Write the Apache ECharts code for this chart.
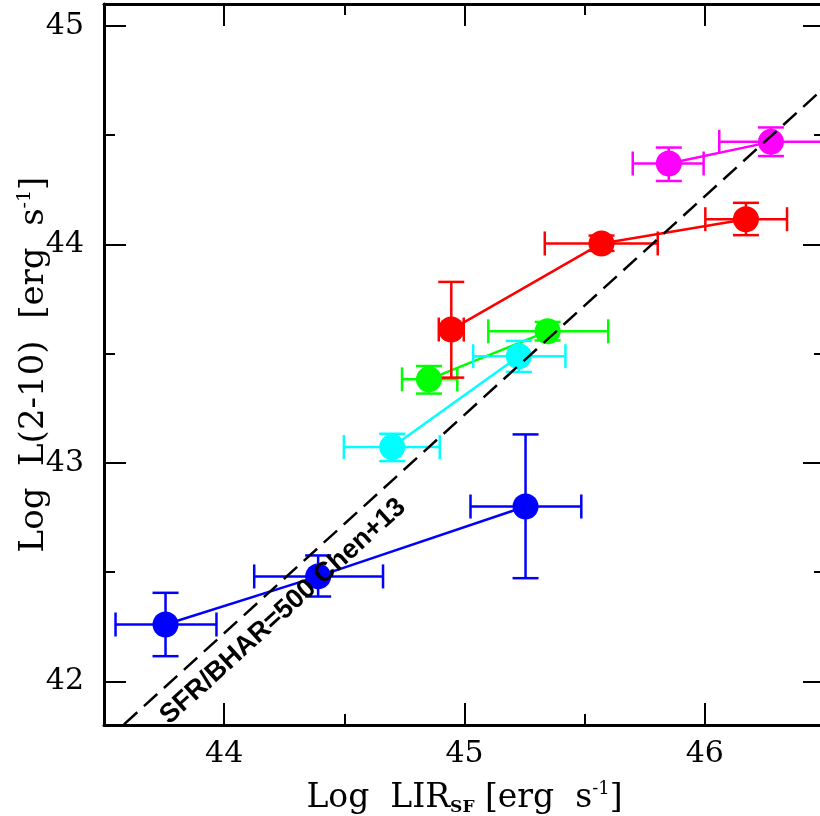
<!DOCTYPE html>
<html><head><meta charset="utf-8">
<script src="https://cdn.jsdelivr.net/npm/echarts@6/dist/echarts.min.js"></script>
<style>html,body{margin:0;padding:0;background:#fff}#c{width:820px;height:816px}</style>
</head><body><div id="c"></div>
<script>
// ---- data ----
const xTickLabels = ['44', '45', '46'];
const yTickLabels = ['42', '43', '44', '45'];

const blueX   = [43.756, 44.391, 45.254];
const blueY   = [42.26, 42.48, 42.80];
const blueXLo = [43.548, 44.125, 45.025];
const blueXHi = [43.968, 44.661, 45.486];
const blueYLo = [42.115, 42.388, 42.472];
const blueYHi = [42.405, 42.576, 43.13];

const cyanX   = [44.699, 45.226];
const cyanY   = [43.072, 43.488];
const cyanXLo = [44.498, 45.036];
const cyanXHi = [44.897, 45.42];
const cyanYLo = [43.008, 43.416];
const cyanYHi = [43.133, 43.558];

const greenX   = [44.852, 45.346];
const greenY   = [43.382, 43.602];
const greenXLo = [44.74, 45.099];
const greenXHi = [44.97, 45.598];
const greenYLo = [43.317, 43.56];
const greenYHi = [43.443, 43.645];

const redX   = [44.945, 45.57, 46.171];
const redY   = [43.61, 44.004, 44.115];
const redXLo = [44.893, 45.334, 46.002];
const redXHi = [44.997, 45.804, 46.342];
const redYLo = [43.39, 43.97, 44.042];
const redYHi = [43.828, 44.04, 44.19];

const magX   = [45.85, 46.275];
const magY   = [44.37, 44.469];
const magXLo = [45.70, 46.06];
const magXHi = [45.995, 46.55];
const magYLo = [44.29, 44.404];
const magYHi = [44.443, 44.535];

// SFR/BHAR = 500 relation (Chen+13)
const chenX = [43.5, 46.5];
const chenY = [41.72, 44.72];
const chenLabel = 'SFR/BHAR=500 Chen+13';

// ---- build ----
const groups = [
  {color: '#0000ff', x: blueX, y: blueY, xLo: blueXLo, xHi: blueXHi, yLo: blueYLo, yHi: blueYHi},
  {color: '#00ffff', x: cyanX, y: cyanY, xLo: cyanXLo, xHi: cyanXHi, yLo: cyanYLo, yHi: cyanYHi},
  {color: '#00ff00', x: greenX, y: greenY, xLo: greenXLo, xHi: greenXHi, yLo: greenYLo, yHi: greenYHi},
  {color: '#ff0000', x: redX, y: redY, xLo: redXLo, xHi: redXHi, yLo: redYLo, yHi: redYHi},
  {color: '#ff00ff', x: magX, y: magY, xLo: magXLo, xHi: magXHi, yLo: magYLo, yHi: magYHi}
];

const SERIF = 'DejaVu Serif';
const tickFmt = v => (Math.abs(v - Math.round(v)) < 1e-9 ? String(Math.round(v)) : '');

function majorX(pos, withLabels) {
  return {
    type: 'value', position: pos, min: 43.5, max: 46.5, minInterval: 1, maxInterval: 1, splitNumber: 3,
    axisLine: {show: true, onZero: false, lineStyle: {color: '#000', width: 3}},
    axisTick: {show: true, inside: true, length: 22, lineStyle: {color: '#000', width: 2}},
    axisLabel: {show: withLabels, formatter: tickFmt, fontFamily: SERIF, fontSize: 30, color: '#000', margin: 14},
    splitLine: {show: false}
  };
}
function minorX(pos) {
  return {
    type: 'value', position: pos, min: 43.5, max: 46.5, interval: 0.5,
    axisLine: {show: false}, axisLabel: {show: false}, splitLine: {show: false},
    axisTick: {show: true, inside: true, length: 11, lineStyle: {color: '#000', width: 2}}
  };
}
function majorY(pos, withLabels) {
  return {
    type: 'value', position: pos, min: 41.8, max: 45.1, minInterval: 1, maxInterval: 1, splitNumber: 3,
    axisLine: {show: true, onZero: false, lineStyle: {color: '#000', width: 3}},
    axisTick: {show: true, inside: true, length: 22, lineStyle: {color: '#000', width: 2}},
    axisLabel: {show: withLabels, formatter: tickFmt, fontFamily: SERIF, fontSize: 30, color: '#000', margin: 20},
    splitLine: {show: false}
  };
}
function minorY(pos) {
  return {
    type: 'value', position: pos, min: 41.8, max: 45.1, minInterval: 0.5, maxInterval: 0.5, splitNumber: 7,
    axisLine: {show: false}, axisLabel: {show: false}, splitLine: {show: false},
    axisTick: {show: true, inside: true, length: 11, lineStyle: {color: '#000', width: 2}}
  };
}

const xMain = majorX('bottom', true);
xMain.name = '{a|Log  LIR}{sub|SF}{a| [erg  s}{sup|-1}{a|]}';
xMain.nameLocation = 'middle';
xMain.nameGap = 55;
xMain.nameMoveOverlap = false;
xMain.nameTextStyle = {
  color: '#000',
  rich: {
    a: {fontFamily: SERIF, fontSize: 33, color: '#000', lineHeight: 36},
    sub: {fontFamily: SERIF, fontSize: 17, fontWeight: 'bold', color: '#000', verticalAlign: 'bottom', lineHeight: 30},
    sup: {fontFamily: SERIF, fontSize: 18, color: '#000', verticalAlign: 'top', lineHeight: 18}
  }
};

const yMain = majorY('left', true);
yMain.name = '{a|Log  L(2-10)  [erg  s}{sup|-1}{a|]}';
yMain.nameLocation = 'middle';
yMain.nameGap = 52;
yMain.nameRotate = 90;
yMain.nameMoveOverlap = false;
yMain.nameTextStyle = {
  color: '#000',
  rich: {
    a: {fontFamily: SERIF, fontSize: 34, color: '#000', lineHeight: 36},
    sup: {fontFamily: SERIF, fontSize: 19, color: '#000', verticalAlign: 'top', lineHeight: 18}
  }
};

const LW = 2.5;
const series = [];
groups.forEach((g, gi) => {
  const pts = g.x.map((v, i) => [v, g.y[i]]);
  series.push({
    type: 'line', data: pts, symbol: 'none', xAxisIndex: 0, yAxisIndex: 0,
    lineStyle: {color: g.color, width: LW}, z: 2 + gi * 0.01, animation: false
  });
  series.push({
    type: 'custom', xAxisIndex: 0, yAxisIndex: 0, z: 3 + gi * 0.01,
    data: g.x.map((v, i) => [v, g.y[i], g.xLo[i], g.xHi[i], g.yLo[i], g.yHi[i]]),
    encode: {x: [0, 2, 3], y: [1, 4, 5]},
    renderItem: function (params, api) {
      const l = api.coord([api.value(2), api.value(1)]);
      const r = api.coord([api.value(3), api.value(1)]);
      const t = api.coord([api.value(0), api.value(5)]);
      const b = api.coord([api.value(0), api.value(4)]);
      const cx = 12, cy = 13;
      const st = {stroke: g.color, lineWidth: LW, fill: null};
      return {type: 'group', children: [
        {type: 'line', shape: {x1: l[0], y1: l[1], x2: r[0], y2: r[1]}, style: st},
        {type: 'line', shape: {x1: l[0], y1: l[1] - cx, x2: l[0], y2: l[1] + cx}, style: st},
        {type: 'line', shape: {x1: r[0], y1: r[1] - cx, x2: r[0], y2: r[1] + cx}, style: st},
        {type: 'line', shape: {x1: t[0], y1: t[1], x2: b[0], y2: b[1]}, style: st},
        {type: 'line', shape: {x1: t[0] - cy, y1: t[1], x2: t[0] + cy, y2: t[1]}, style: st},
        {type: 'line', shape: {x1: b[0] - cy, y1: b[1], x2: b[0] + cy, y2: b[1]}, style: st}
      ]};
    }
  });
  series.push({
    type: 'scatter', data: pts, symbol: 'circle', symbolSize: 26, xAxisIndex: 0, yAxisIndex: 0,
    itemStyle: {color: g.color, opacity: 1}, z: 4 + gi * 0.01
  });
});
series.push({
  type: 'line', data: chenX.map((v, i) => [v, chenY[i]]), symbol: 'none', xAxisIndex: 0, yAxisIndex: 0,
  lineStyle: {color: '#000', width: 2.5, type: [18, 9]}, z: 10, clip: true
});

const chart = echarts.init(document.getElementById('c'), null, {renderer: 'canvas'});
chart.setOption({
  animation: false,
  backgroundColor: '#fff',
  grid: {left: 104, top: 4, right: -5, bottom: 91, containLabel: false, outerBoundsMode: 'none'},
  xAxis: [xMain, majorX('top', false), minorX('bottom'), minorX('top')],
  yAxis: [yMain, majorY('right', false), minorY('left'), minorY('right')],
  series: series
});

// rotated annotation along the Chen+13 line
const p1 = chart.convertToPixel({xAxisIndex: 0, yAxisIndex: 0}, [chenX[0], chenY[0]]);
const p2 = chart.convertToPixel({xAxisIndex: 0, yAxisIndex: 0}, [chenX[1], chenY[1]]);
const ang = Math.atan2(p1[1] - p2[1], p2[0] - p1[0]);
const anchor = chart.convertToPixel({xAxisIndex: 0, yAxisIndex: 0}, [44.245, 42.32]);
chart.setOption({
  graphic: [{
    type: 'text', x: anchor[0], y: anchor[1], rotation: ang, z: 20,
    style: {text: chenLabel, fill: '#000', font: 'bold 27px "Liberation Sans"', align: 'center', verticalAlign: 'middle'}
  }]
});
</script>
</body></html>
